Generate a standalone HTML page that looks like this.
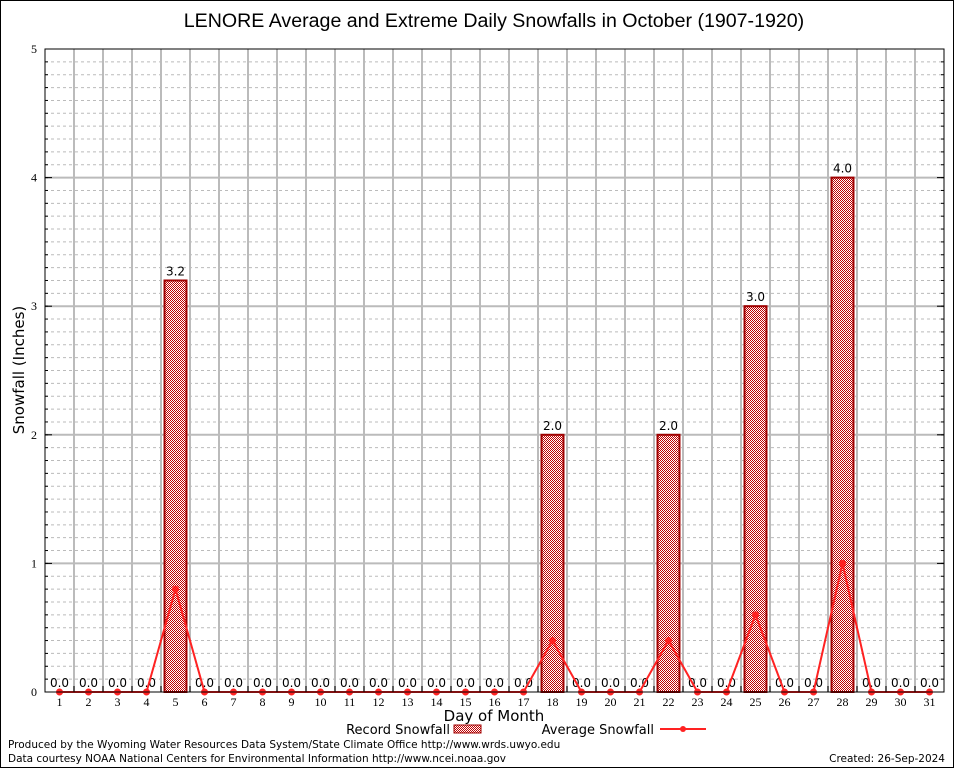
<!DOCTYPE html>
<html><head><meta charset="utf-8"><style>
body{margin:0;background:#fff}
svg{display:block;font-family:"DejaVu Sans","Liberation Sans",sans-serif}
</style></head><body>
<svg id="c" width="954" height="768" viewBox="0 0 954 768" xmlns="http://www.w3.org/2000/svg">
<defs>
<pattern id="chk" width="2" height="2" patternUnits="userSpaceOnUse">
<rect width="2" height="2" fill="#fff"/><rect width="1" height="1" fill="#c00000"/><rect x="1" y="1" width="1" height="1" fill="#c00000"/>
</pattern>
</defs>
<rect x="0.5" y="0.5" width="953" height="767" fill="#fff" stroke="#000"/>
<text x="494" y="27" font-size="19.6" text-anchor="middle" font-family="Liberation Sans, sans-serif">LENORE Average and Extreme Daily Snowfalls in October (1907-1920)</text>
<g id="grid"></g><g id="marks"></g><g id="axes"></g>
<text x="24" y="370" font-size="15" text-anchor="middle" transform="rotate(-90 24 370)">Snowfall (Inches)</text>
<text x="494" y="721" font-size="15" text-anchor="middle">Day of Month</text>
<g>
<text x="450" y="734" font-size="13" text-anchor="end">Record Snowfall</text>
<rect x="454" y="725" width="27" height="8" fill="url(#chk)" stroke="#a00000"/>
</g>
<g>
<text x="654" y="734" font-size="13" text-anchor="end">Average Snowfall</text>
<line x1="660" y1="729" x2="706" y2="729" stroke="#f22" stroke-width="2"/>
<circle cx="683" cy="729" r="3" fill="#f22"/>
</g>
<text x="8" y="748" font-size="10.5">Produced by the Wyoming Water Resources Data System/State Climate Office http://www.wrds.uwyo.edu</text>
<text x="8" y="762" font-size="10.5">Data courtesy NOAA National Centers for Environmental Information http://www.ncei.noaa.gov</text>
<text x="945" y="762" font-size="10.5" text-anchor="end">Created:  26-Sep-2024</text>
</svg>
<script>
const days=[1,2,3,4,5,6,7,8,9,10,11,12,13,14,15,16,17,18,19,20,21,22,23,24,25,26,27,28,29,30,31];
const recordVals=[0,0,0,0,3.2,0,0,0,0,0,0,0,0,0,0,0,0,2.0,0,0,0,2.0,0,0,3.0,0,0,4.0,0,0,0];
const avgVals=[0,0,0,0,0.8,0,0,0,0,0,0,0,0,0,0,0,0,0.4,0,0,0,0.4,0,0,0.6,0,0,1.0,0,0,0];
const yTicks=[0,1,2,3,4,5];
const L=45,R=944,T=49,B=692,yMax=5;
const step=(R-L)/days.length;
const xs=d=>L+(d-0.5)*step;
const ys=v=>B-(v/yMax)*(B-T);
const NS="http://www.w3.org/2000/svg";
function mk(tag,attrs,parent){const e=document.createElementNS(NS,tag);for(const k in attrs)e.setAttribute(k,attrs[k]);parent.appendChild(e);return e;}
const grid=document.getElementById('grid'),marks=document.getElementById('marks'),axes=document.getElementById('axes');
for(let i=1;i<yMax*10;i++){if(i%10===0)continue;const y=ys(i/10);
const l=mk('line',{x1:L,x2:R,y1:y,y2:y,stroke:'#bbb','stroke-dasharray':'3,3'},grid);
}
for(let i=1;i<days.length;i++){const x=L+i*step;
const l=mk('line',{x1:x,x2:x,y1:T,y2:B,stroke:'#bbb','stroke-width':2},grid);
}
yTicks.forEach(v=>{const y=ys(v);
if(v>0&&v<yMax){const l=mk('line',{x1:L,x2:R,y1:y,y2:y,stroke:'#bbb','stroke-width':2},grid);
}
const t=mk('text',{x:L-8,y:y+4,'font-size':12,'text-anchor':'end','font-family':'Liberation Serif, serif'},axes);t.textContent=v;

mk('line',{x1:L,x2:L+7,y1:y,y2:y,stroke:'#000'},axes);mk('line',{x1:R-7,x2:R,y1:y,y2:y,stroke:'#000'},axes);});
for(let i=1;i<yMax*10;i++){const y=ys(i/10);mk('line',{x1:L,x2:L+3,y1:y,y2:y,stroke:'#000'},axes);mk('line',{x1:R-3,x2:R,y1:y,y2:y,stroke:'#000'},axes);}
const fr=mk('rect',{x:L,y:T,width:R-L,height:B-T,fill:'none',stroke:'#000'},axes);

days.forEach((d,i)=>{const x=xs(d);
const t=mk('text',{x:x,y:B+14,'font-size':12,'text-anchor':'middle','font-family':'Liberation Serif, serif'},axes);t.textContent=d;

mk('line',{x1:L+(i+1)*step,x2:L+(i+1)*step,y1:B,y2:B-6,stroke:'#000'},axes);
const v=recordVals[i];
if(v>0){const b=mk('rect',{x:x-11,y:ys(v),width:22,height:B-ys(v),fill:'url(#chk)',stroke:'#a00000','stroke-width':2},marks);
}
const lb=mk('text',{x:x,y:ys(v)-5,'font-size':12,'text-anchor':'middle'},marks);lb.textContent=v.toFixed(1);
});
const pl=mk('polyline',{points:days.map((d,i)=>xs(d)+','+ys(avgVals[i])).join(' '),fill:'none',stroke:'#f22','stroke-width':2},marks);

days.forEach((d,i)=>{const c=mk('circle',{cx:xs(d),cy:ys(avgVals[i]),r:3.5,fill:'#f22'},marks);
});
</script>
</body></html>
